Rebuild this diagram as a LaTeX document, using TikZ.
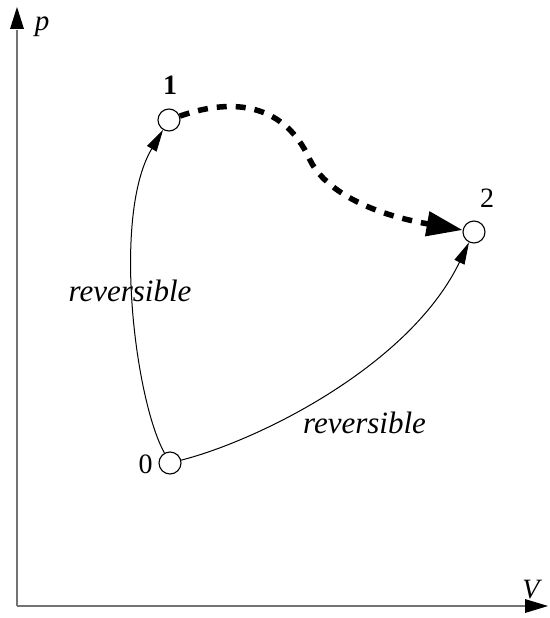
\documentclass[tikz,border=0pt]{standalone}
\usepackage{fontspec}
\setmainfont{Liberation Serif}
\usetikzlibrary{arrows.meta}
\begin{document}
\begin{tikzpicture}[x=1pt,y=-1pt,
  state/.style={circle,draw,line width=1.1pt,minimum size=22pt,inner sep=0pt,fill=white},
  axis/.style={draw=gray!90!black,line width=1.8pt},
  thin/.style={line width=1pt,-{Triangle[length=22pt,width=11pt]}},
  lbl/.style={anchor=base,inner sep=0pt,font=\fontsize{28}{30}\selectfont},
  ilbl/.style={anchor=base,inner sep=0pt,font=\fontsize{31}{34}\selectfont\itshape}]
\useasboundingbox (0,0) rectangle (549,618);
\coordinate (o) at (17,606);
\coordinate (ytop) at (17,7);
\coordinate (xend) at (548,606);
\draw[axis] (o) -- (17,30);
\draw[axis] (o) -- (525,606);
\fill (ytop) -- (10,29) -- (24,29) -- cycle;
\fill (xend) -- (525,599) -- (525,613) -- cycle;
\node[ilbl,font=\fontsize{29}{30}\selectfont\itshape] (p) at (42,31) {p};
\node[ilbl,font=\fontsize{28}{30}\selectfont\itshape] (V) at (531,598) {V};
\node[state] (n0) at (170,463) {};
\node[state] (n1) at (169,120) {};
\node[state] (n2) at (474,232) {};
\node[lbl] (l0) at (145.5,473) {0};
\node[lbl,font=\fontsize{28}{30}\selectfont\bfseries] (l1) at (170,94) {1};
\node[lbl] (l2) at (487,207) {2};
\draw[thin] (n0) .. controls (135,400) and (112,215) .. (n1);
\draw[thin] (n0) .. controls (260,440) and (410,365) .. (n2);
\draw[line width=5.5pt,dash pattern=on 10pt off 9pt,-{Triangle[length=36pt,width=24pt]}]
  (n1) .. controls (225,100) and (282,98) .. (310,160) .. controls (322,185) and (360,212) .. (n2);
\node[ilbl] (r1) at (130,301) {reversible};
\node[ilbl] (r2) at (364.5,433) {reversible};
\end{tikzpicture}
\end{document}
